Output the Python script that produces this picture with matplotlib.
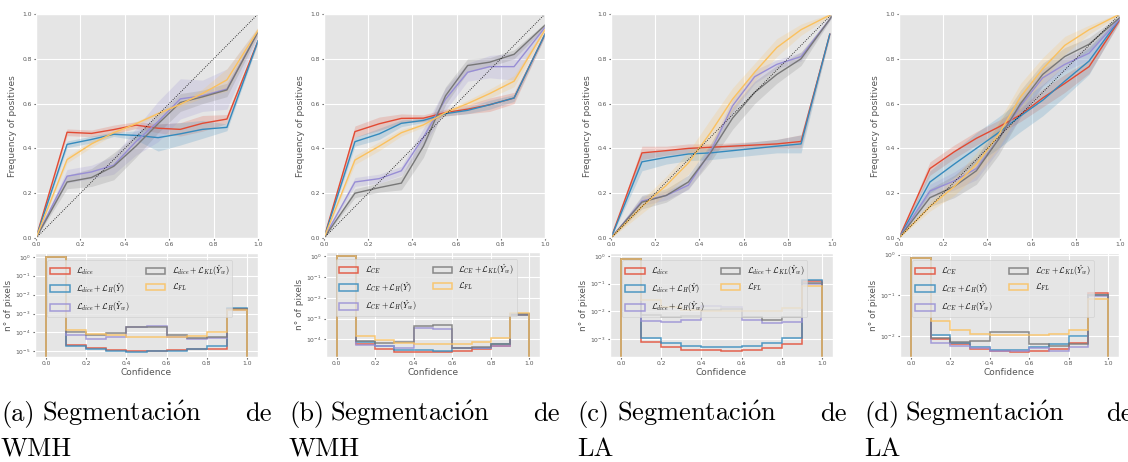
import matplotlib.pyplot as plt
import numpy as np

plt.style.use('ggplot')
plt.rcParams['mathtext.fontset'] = 'cm'

W, H = 1128, 462

# mean predicted probability per bin (x of the reliability curves)
conf = [0.0, 0.14, 0.25, 0.35, 0.45, 0.55, 0.65, 0.75, 0.86, 1.0]
conf_c_end = [0.0, 0.14, 0.25, 0.35, 0.45, 0.55, 0.65, 0.75, 0.86, 0.99]

# histogram bins
bin_edges = np.linspace(0, 1, 11)
bin_mid = (bin_edges[:-1] + bin_edges[1:]) / 2

labels_dice = [r'$\mathcal{L}_{dice}$',
               r'$\mathcal{L}_{dice} + \mathcal{L}_{H}(\hat{Y})$',
               r'$\mathcal{L}_{dice} + \mathcal{L}_{H}(\hat{Y}_w)$',
               r'$\mathcal{L}_{dice} + \mathcal{L}_{KL}(\hat{Y}_w)$',
               r'$\mathcal{L}_{FL}$']
labels_ce = [r'$\mathcal{L}_{CE}$',
             r'$\mathcal{L}_{CE} + \mathcal{L}_{H}(\hat{Y})$',
             r'$\mathcal{L}_{CE} + \mathcal{L}_{H}(\hat{Y}_w)$',
             r'$\mathcal{L}_{CE} + \mathcal{L}_{KL}(\hat{Y}_w)$',
             r'$\mathcal{L}_{FL}$']

# ---- (a) WMH, dice ----
a_frac = [
    [0, 0.472, 0.467, 0.484, 0.504, 0.49, 0.485, 0.512, 0.531, 0.88],
    [0, 0.418, 0.44, 0.463, 0.458, 0.448, 0.465, 0.485, 0.494, 0.88],
    [0, 0.276, 0.295, 0.325, 0.43, 0.52, 0.621, 0.635, 0.665, 0.92],
    [0, 0.25, 0.27, 0.32, 0.41, 0.51, 0.605, 0.63, 0.661, 0.92],
    [0, 0.35, 0.42, 0.47, 0.51, 0.555, 0.597, 0.645, 0.706, 0.927],
]
a_std = [
    [0, 0.015, 0.015, 0.02, 0.015, 0.02, 0.03, 0.035, 0.02, 0.01],
    [0, 0.015, 0.015, 0.01, 0.02, 0.06, 0.05, 0.04, 0.015, 0.01],
    [0, 0.03, 0.03, 0.04, 0.06, 0.09, 0.09, 0.07, 0.09, 0.02],
    [0, 0.03, 0.04, 0.06, 0.05, 0.04, 0.04, 0.03, 0.03, 0.015],
    [0, 0.015, 0.015, 0.01, 0.01, 0.01, 0.01, 0.02, 0.05, 0.015],
]
a_hist = [
    [1.0, 2.2e-5, 1.5e-5, 1.2e-5, 1.05e-5, 1.0e-5, 1.15e-5, 1.3e-5, 1.3e-5, 1.8e-3],
    [1.0, 2.0e-5, 1.4e-5, 1.0e-5, 9.4e-6, 1.0e-5, 1.1e-5, 1.25e-5, 1.9e-5, 2.0e-3],
    [1.0, 7.5e-5, 4.5e-5, 5.6e-5, 1.9e-4, 2.2e-4, 6.0e-5, 4.5e-5, 5.0e-5, 1.6e-3],
    [1.0, 1.1e-4, 7.3e-5, 9.0e-5, 1.9e-4, 1.9e-4, 7.0e-5, 5.0e-5, 6.0e-5, 1.7e-3],
    [1.0, 1.4e-4, 7.8e-5, 7.0e-5, 5.6e-5, 5.6e-5, 5.6e-5, 6.5e-5, 1.0e-4, 1.6e-3],
]

# ---- (b) WMH, CE ----
b_frac = [
    [0, 0.475, 0.51, 0.534, 0.535, 0.56, 0.575, 0.595, 0.625, 0.91],
    [0, 0.43, 0.465, 0.512, 0.525, 0.555, 0.57, 0.595, 0.625, 0.91],
    [0, 0.25, 0.265, 0.30, 0.45, 0.62, 0.74, 0.765, 0.765, 0.94],
    [0, 0.20, 0.225, 0.245, 0.41, 0.635, 0.77, 0.785, 0.82, 0.95],
    [0, 0.348, 0.41, 0.47, 0.505, 0.56, 0.60, 0.645, 0.70, 0.93],
]
b_std = [
    [0, 0.025, 0.03, 0.02, 0.015, 0.015, 0.02, 0.03, 0.025, 0.01],
    [0, 0.02, 0.025, 0.015, 0.01, 0.01, 0.015, 0.02, 0.015, 0.01],
    [0, 0.02, 0.02, 0.02, 0.04, 0.05, 0.04, 0.05, 0.06, 0.01],
    [0, 0.02, 0.02, 0.03, 0.05, 0.04, 0.03, 0.02, 0.02, 0.01],
    [0, 0.02, 0.02, 0.015, 0.01, 0.01, 0.015, 0.02, 0.025, 0.01],
]
b_hist = [
    [1.0, 6.0e-5, 3.4e-5, 2.5e-5, 2.5e-5, 2.5e-5, 2.6e-5, 3.4e-5, 4.5e-5, 1.6e-3],
    [1.0, 7.0e-5, 4.5e-5, 3.2e-5, 3.1e-5, 2.8e-5, 3.6e-5, 4.0e-5, 6.0e-5, 1.6e-3],
    [1.0, 5.5e-5, 5.0e-5, 4.0e-5, 3.5e-4, 3.2e-4, 3.8e-5, 3.9e-5, 5.0e-5, 1.5e-3],
    [1.0, 8.5e-5, 6.5e-5, 7.0e-5, 4.4e-4, 5.0e-4, 4.0e-5, 4.2e-5, 6.0e-5, 1.4e-3],
    [1.0, 1.4e-4, 9.0e-5, 6.5e-5, 5.8e-5, 6.0e-5, 6.0e-5, 7.5e-5, 1.1e-4, 1.8e-3],
]

# ---- (c) LA, dice ----
c_frac = [
    [0, 0.38, 0.39, 0.40, 0.405, 0.41, 0.415, 0.42, 0.431, 0.91],
    [0, 0.34, 0.36, 0.375, 0.38, 0.39, 0.40, 0.41, 0.42, 0.91],
    [0, 0.165, 0.19, 0.236, 0.385, 0.59, 0.72, 0.775, 0.81, 0.99],
    [0, 0.16, 0.19, 0.25, 0.38, 0.535, 0.65, 0.73, 0.80, 0.99],
    [0, 0.14, 0.235, 0.335, 0.47, 0.62, 0.74, 0.85, 0.93, 1.0],
]
c_std = [
    [0, 0.03, 0.02, 0.02, 0.015, 0.015, 0.015, 0.02, 0.03, 0.01],
    [0, 0.04, 0.03, 0.03, 0.03, 0.03, 0.03, 0.03, 0.04, 0.01],
    [0, 0.02, 0.02, 0.02, 0.03, 0.03, 0.03, 0.02, 0.02, 0.005],
    [0, 0.03, 0.03, 0.03, 0.04, 0.05, 0.05, 0.04, 0.03, 0.005],
    [0, 0.03, 0.04, 0.05, 0.06, 0.05, 0.04, 0.04, 0.025, 0.005],
]
c_hist = [
    [0.8, 7.5e-4, 5.0e-4, 4.1e-4, 3.8e-4, 3.6e-4, 3.9e-4, 4.8e-4, 6.4e-4, 1.3e-1],
    [0.8, 1.05e-3, 7.0e-4, 5.6e-4, 5.1e-4, 5.1e-4, 5.6e-4, 7.0e-4, 1.1e-3, 1.4e-1],
    [0.8, 4.6e-3, 4.0e-3, 5.0e-3, 1.5e-2, 1.45e-2, 4.8e-3, 3.8e-3, 4.2e-3, 1.0e-1],
    [0.8, 7.5e-3, 6.0e-3, 6.5e-3, 1.1e-2, 1.2e-2, 6.0e-3, 5.0e-3, 6.0e-3, 1.1e-1],
    [0.8, 2.5e-2, 1.4e-2, 1.1e-2, 1.05e-2, 1.05e-2, 1.02e-2, 1.05e-2, 1.35e-2, 8.0e-2],
]

# ---- (d) LA, CE ----
d_frac = [
    [0, 0.31, 0.385, 0.445, 0.495, 0.55, 0.625, 0.69, 0.765, 0.975],
    [0, 0.25, 0.33, 0.40, 0.47, 0.545, 0.615, 0.70, 0.79, 0.98],
    [0, 0.21, 0.255, 0.31, 0.44, 0.59, 0.715, 0.775, 0.825, 0.98],
    [0, 0.18, 0.23, 0.30, 0.44, 0.60, 0.73, 0.81, 0.865, 0.985],
    [0, 0.14, 0.23, 0.33, 0.46, 0.63, 0.755, 0.86, 0.93, 1.0],
]
d_std = [
    [0, 0.03, 0.03, 0.03, 0.03, 0.03, 0.04, 0.04, 0.03, 0.01],
    [0, 0.05, 0.06, 0.07, 0.07, 0.07, 0.07, 0.07, 0.06, 0.01],
    [0, 0.03, 0.04, 0.05, 0.05, 0.05, 0.04, 0.03, 0.03, 0.01],
    [0, 0.04, 0.05, 0.06, 0.07, 0.06, 0.05, 0.04, 0.03, 0.01],
    [0, 0.02, 0.04, 0.05, 0.06, 0.06, 0.05, 0.04, 0.02, 0.005],
]
d_hist = [
    [0.85, 8.6e-3, 6.6e-3, 4.8e-3, 4.3e-3, 4.1e-3, 4.4e-3, 5.0e-3, 7.0e-3, 1.15e-1],
    [0.85, 1.1e-2, 7.0e-3, 5.5e-3, 4.7e-3, 4.7e-3, 5.6e-3, 6.6e-3, 1.0e-2, 1.0e-1],
    [0.85, 7.0e-3, 5.8e-3, 5.2e-3, 4.4e-3, 4.4e-3, 5.3e-3, 4.4e-3, 5.4e-3, 9.8e-2],
    [0.85, 9.0e-3, 7.3e-3, 7.8e-3, 1.25e-2, 1.25e-2, 6.6e-3, 5.8e-3, 6.4e-3, 1.05e-1],
    [0.85, 2.4e-2, 1.4e-2, 1.15e-2, 1.1e-2, 1.08e-2, 1.05e-2, 1.15e-2, 1.4e-2, 8.0e-2],
]

colors = ['#E24A33', '#348ABD', '#988ED5', '#777777', '#FBC15E']

panels = [
    dict(frac=a_frac, std=a_std, hist=a_hist, labels=labels_dice, x=[conf] * 5,
         top=(36, 14, 258, 238), bot=(35, 253, 258, 357), ylim=(5e-6, 1.6),
         caption=('(a)', 'WMH'), cx=(1, 42, 272)),
    dict(frac=b_frac, std=b_std, hist=b_hist, labels=labels_ce, x=[conf] * 5,
         top=(324, 14, 545, 238), bot=(326, 252, 540, 357), ylim=(1.4e-5, 1.6),
         caption=('(b)', 'WMH'), cx=(289, 330, 560)),
    dict(frac=c_frac, std=c_std, hist=c_hist, labels=labels_dice,
         x=[conf_c_end, conf_c_end, conf, conf, conf],
         top=(611, 14, 832, 238), bot=(610, 253, 833, 357), ylim=(2.2e-4, 1.3),
         caption=('(c)', 'LA'), cx=(577, 617, 847)),
    dict(frac=d_frac, std=d_std, hist=d_hist, labels=labels_ce, x=[conf] * 5,
         top=(899, 14, 1120, 238), bot=(900, 253, 1119, 357), ylim=(3.1e-3, 1.1),
         caption=('(d)', 'LA'), cx=(864, 905, 1106)),
]


def px_axes(fig, box):
    l, t, r, b = box
    return fig.add_axes([l / W, 1 - b / H, (r - l) / W, (b - t) / H])


fig = plt.figure(figsize=(W / 100, H / 100), dpi=100)
fig.patch.set_facecolor('white')

cap_font = dict(fontsize=19, family='cmr10', va='baseline')
word = r'$\mathrm{Segmentaci\acute{o}n}$'

for p in panels:
    # reliability diagram
    ax = px_axes(fig, p['top'])
    for xs, m, s, c in zip(p['x'], p['frac'], p['std'], colors):
        m = np.array(m)
        s = np.array(s)
        ax.plot(xs, m, color=c, lw=1.0)
        ax.fill_between(xs, m - s, m + s, color=c, alpha=0.2, lw=0)
    ax.plot([0, 1], [0, 1], color='black', ls=':', lw=0.6)
    ax.set_xlim(0, 1)
    ax.set_ylim(0, 1)
    ax.set_xticks(np.arange(0, 1.01, 0.2))
    ax.set_yticks(np.arange(0, 1.01, 0.2))
    ax.tick_params(labelsize=4.3, length=1.5, pad=1.5)
    ax.set_ylabel('Frequency of positives', fontsize=6.5, labelpad=4)

    # confidence histogram
    hx = px_axes(fig, p['bot'])
    for h, c, lab in zip(p['hist'], colors, p['labels']):
        hx.hist(bin_mid, bins=bin_edges, weights=h, histtype='step',
                color=c, lw=1.1, alpha=0.85, label=lab, log=True)
    hx.set_ylim(*p['ylim'])
    hx.set_xlim(-0.055, 1.055)
    hx.set_xticks(np.arange(0, 1.01, 0.2))
    hx.tick_params(labelsize=4.3, length=1.5, pad=1.5)
    hx.tick_params(which='minor', length=0)
    hx.set_xlabel('Confidence', fontsize=6.5, labelpad=1)
    hx.set_ylabel('n° of pixels', fontsize=6.5, labelpad=2)
    hx.legend(ncol=2, fontsize=5.8, loc='upper center', bbox_to_anchor=(0.47, 0.97),
              handlelength=2.4, handleheight=0.9, columnspacing=2.0,
              labelspacing=0.5, borderpad=0.4)

    # caption
    tag, name = p['caption']
    x0, x1, x2 = p['cx']
    fig.text(x0 / W, 1 - 421 / H, tag, ha='left', **cap_font)
    fig.text(x1 / W, 1 - 421 / H, word, ha='left', **cap_font)
    fig.text(x2 / W, 1 - 421 / H, 'de', ha='right' if x2 < 1100 else 'left', **cap_font)
    fig.text(x0 / W, 1 - 456 / H, name, ha='left', **cap_font)

fig.savefig('out.png', dpi=100)
